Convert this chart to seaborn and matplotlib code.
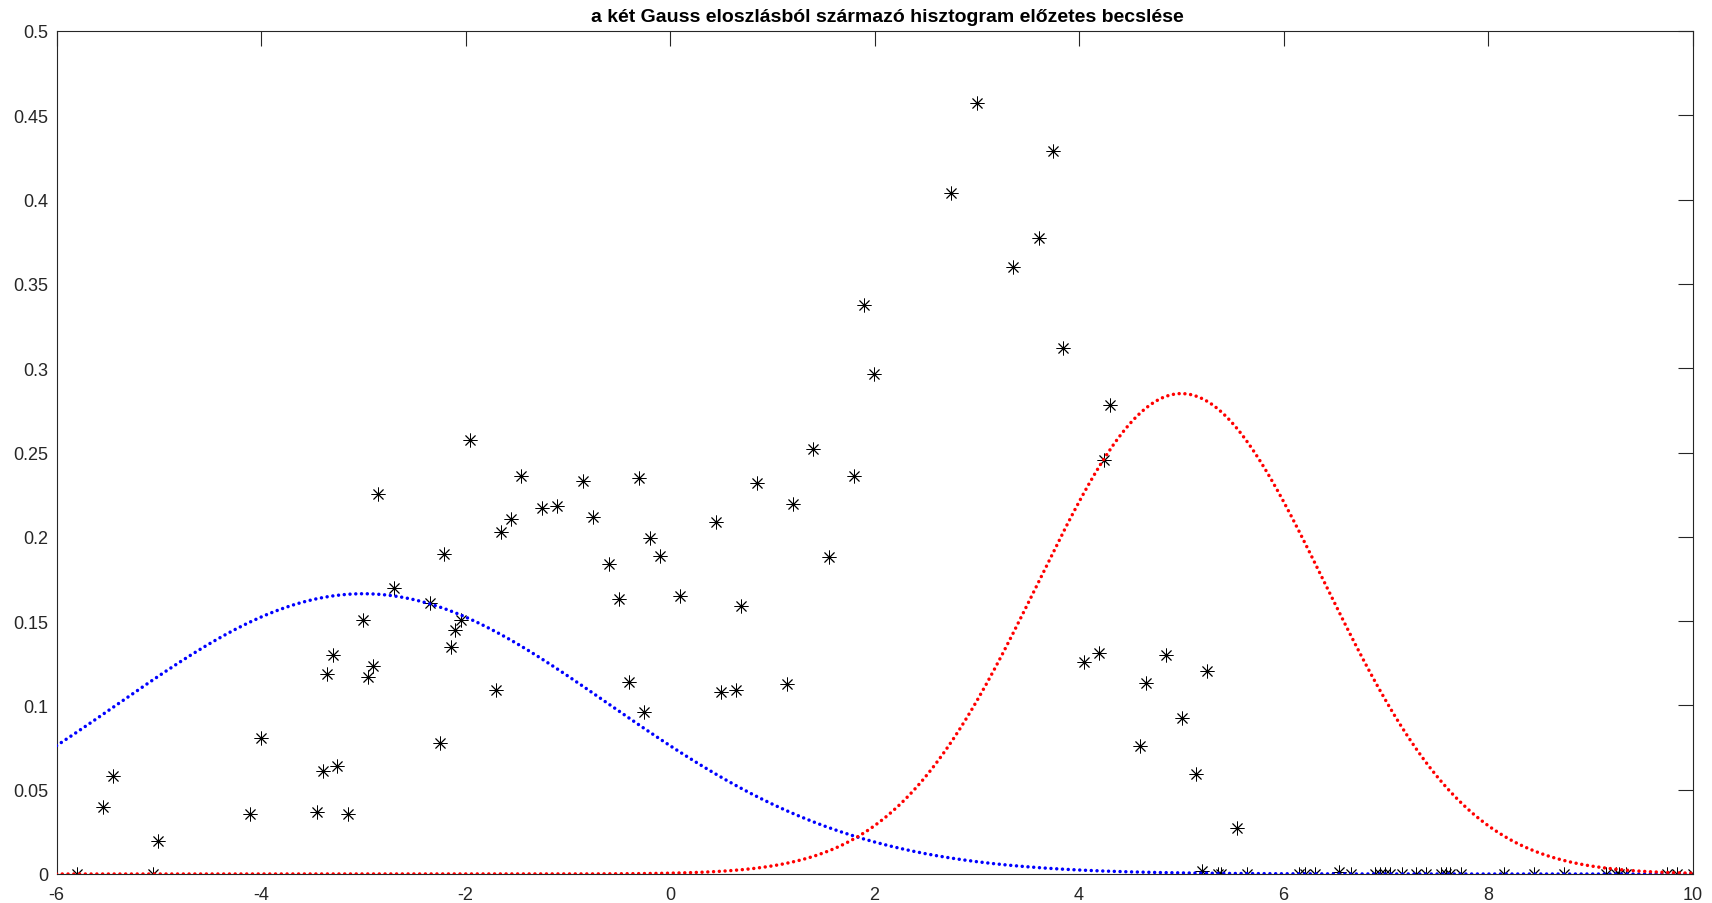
"""
Két Gauss eloszlás + hisztogram előzetes becslés, MATLAB-szerű ábra.
"""
import matplotlib
matplotlib.use("Agg")
import matplotlib.pyplot as plt
import numpy as np
import pandas as pd
import seaborn as sns

# hisztogram pontok (x, y)
hist_x = [
    -5.80, -5.55, -5.45, -5.054, -5.005, -4.108, -4.00, -3.454, -3.398, -3.353,
    -3.30, -3.255, -3.154, -3.007, -2.952, -2.903, -2.854, -2.70, -2.349, -2.251,
    -2.209, -2.147, -2.102, -2.049, -1.958, -1.704, -1.652, -1.554, -1.453, -1.257,
    -1.107, -0.853, -0.755, -0.599, -0.501, -0.404, -0.306, -0.254, -0.198, -0.10,
    0.095, 0.447, 0.502, 0.642, 0.698, 0.851, 1.144, 1.203, 1.398, 1.551,
    1.799, 1.896, 1.998, 2.751, 3.001, 3.35, 3.604, 3.744, 3.842, 4.05,
    4.194, 4.246, 4.301, 4.598, 4.65, 4.849, 5.002, 5.146, 5.20, 5.25,
    5.357, 5.39, 5.547, 5.64, 6.149, 6.204, 6.302, 6.546, 6.654, 6.889,
    6.938, 6.987, 7.036, 7.156, 7.296, 7.394, 7.54, 7.589, 7.631, 7.736,
    8.152, 8.452, 8.746, 9.153, 9.251, 9.283, 9.349, 9.746, 9.844, 10.0,
]
hist_y = [
    0.0, 0.0395, 0.058, 0.0, 0.0194, 0.0356, 0.0807, 0.037, 0.0613, 0.1184,
    0.130, 0.0643, 0.0356, 0.1507, 0.117, 0.1236, 0.2254, 0.1694, 0.1605, 0.0775,
    0.1896, 0.1348, 0.1449, 0.1507, 0.2576, 0.1091, 0.203, 0.2104, 0.2363, 0.2169,
    0.2185, 0.2331, 0.2115, 0.1837, 0.1631, 0.1137, 0.2349, 0.0963, 0.1991, 0.1886,
    0.1647, 0.2086, 0.1078, 0.1091, 0.1592, 0.2321, 0.1127, 0.2195, 0.2523, 0.188,
    0.2359, 0.3377, 0.2967, 0.4041, 0.4573, 0.36, 0.3772, 0.429, 0.3118, 0.1256,
    0.1313, 0.2454, 0.2784, 0.0759, 0.1131, 0.1301, 0.0923, 0.0591, 0.0015, 0.1206,
    0.0, 0.0, 0.0271, 0.0, 0.0, 0.0, 0.0, 0.001, 0.0, 0.0,
    0.0, 0.0, 0.0, 0.0, 0.0, 0.0, 0.0, 0.0, 0.0, 0.0,
    0.0, 0.0, 0.0, 0.0, 0.0, 0.0, 0.0, 0.0, 0.0, 0.0,
]

# a két Gauss komponens paraméterei (leolvasva)
gauss_mu = [-3.0, 5.0]
gauss_sigma = [2.4, 1.4]
gauss_colors = ["#0000ff", "#ff0000"]

x_range = (-6, 10)
y_range = (0, 0.5)
x_ticks = [-6, -4, -2, 0, 2, 4, 6, 8, 10]
y_ticks = [0, 0.05, 0.1, 0.15, 0.2, 0.25, 0.3, 0.35, 0.4, 0.45, 0.5]

title = "a két Gauss eloszlásból származó hisztogram előzetes becslése"

sns.set_theme(style="white")
plt.rcParams["font.family"] = ["Liberation Sans", "DejaVu Sans"]
plt.rcParams["axes.unicode_minus"] = False

fig = plt.figure(figsize=(17.12, 9.04), dpi=100)
ax = fig.add_axes([56.5 / 1712, 29 / 904, (1692.7 - 56.5) / 1712, (875 - 32) / 904])

hist_df = pd.DataFrame({"x": hist_x, "y": hist_y})
sns.scatterplot(data=hist_df, x="x", y="y", ax=ax, marker=(8, 2, 0), s=90,
                color="black", linewidth=0.65, legend=False, zorder=2)

grid = np.linspace(x_range[0], x_range[1], 800)
for mu, sigma, col in zip(gauss_mu, gauss_sigma, gauss_colors):
    pdf = np.exp(-0.5 * ((grid - mu) / sigma) ** 2) / (sigma * np.sqrt(2 * np.pi))
    sns.lineplot(x=grid, y=pdf, ax=ax, color=col, linewidth=2.5,
                 linestyle=(0, (0.01, 1.65)), dash_capstyle="round", zorder=3)

ax.set_xlim(*x_range)
ax.set_ylim(*y_range)
ax.set_xticks(x_ticks)
ax.set_yticks(y_ticks)
ax.set_xticklabels([f"{t:g}" for t in x_ticks])
ax.set_yticklabels([f"{t:g}" for t in y_ticks])
ax.set_xlabel("")
ax.set_ylabel("")

for side in ["left", "right", "top", "bottom"]:
    ax.spines[side].set_visible(True)
    ax.spines[side].set_color("#262626")
    ax.spines[side].set_linewidth(0.8)

ax.tick_params(axis="both", direction="in", length=11, width=0.8, color="#262626",
               labelsize=13, labelcolor="#262626", top=True, right=True)
ax.tick_params(axis="x", pad=9)
ax.tick_params(axis="y", pad=6)

ax.set_title(title, fontsize=14, fontweight="bold", color="black", pad=7, x=0.508)

fig.savefig("out.png", dpi=100)
